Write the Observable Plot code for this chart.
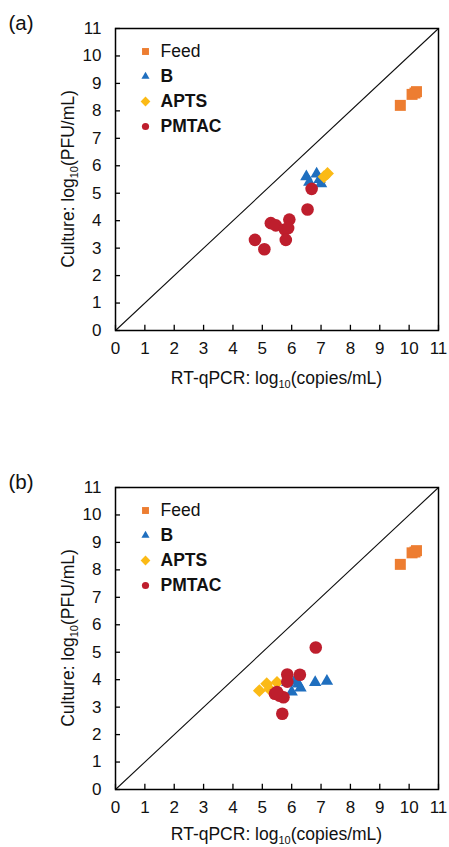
<!DOCTYPE html>
<html><head><meta charset="utf-8">
<script src="https://cdn.jsdelivr.net/npm/d3@7"></script>
<script src="https://cdn.jsdelivr.net/npm/@observablehq/plot@0.6"></script>
<style>body{margin:0;background:#fff} svg{display:block}</style>
</head><body><div id="chart"></div>
<script>
// series definitions
const seriesNames = ["Feed", "B", "APTS", "PMTAC"];
const seriesColors = ["#ED7D31", "#1F6FBF", "#FBBA16", "#BE1E2D"];
const seriesSymbols = ["square", "triangle", "diamond2", "circle"];
const seriesBold = [false, true, true, true];
const axisTicks = [0, 1, 2, 3, 4, 5, 6, 7, 8, 9, 10, 11];
const diagonal = [0, 11];

// panel (a)
const aFeedX = [9.7, 10.1, 10.2, 10.25];
const aFeedY = [8.2, 8.6, 8.65, 8.7];
const aBX = [6.5, 6.6, 6.85, 6.95, 7.0];
const aBY = [5.6, 5.4, 5.7, 5.5, 5.35];
const aAPTSX = [7.1, 7.22];
const aAPTSY = [5.6, 5.72];
const aPMTACX = [6.68, 6.54, 5.92, 5.29, 5.46, 5.77, 5.88, 4.75, 5.80, 5.07];
const aPMTACY = [5.16, 4.41, 4.04, 3.91, 3.83, 3.68, 3.73, 3.30, 3.30, 2.96];

// panel (b)
const bFeedX = [9.7, 10.1, 10.2, 10.25];
const bFeedY = [8.2, 8.62, 8.65, 8.7];
const bBX = [5.85, 6.0, 6.1, 6.22, 6.3, 6.8, 7.2];
const bBY = [3.9, 3.55, 3.95, 3.85, 3.7, 3.9, 3.95];
const bAPTSX = [4.9, 5.15, 5.25, 5.5];
const bAPTSY = [3.6, 3.85, 3.65, 3.9];
const bPMTACX = [6.82, 5.85, 6.28, 5.85, 5.43, 5.58, 5.72, 5.68, 5.5];
const bPMTACY = [5.17, 4.19, 4.18, 3.93, 3.49, 3.42, 3.36, 2.76, 3.55];

const pointR = [6.2, 4.6, 5.8, 6.3];
const legendR = [3.9, 3.0, 4.4, 3.6];

const FONT = "'Liberation Sans', Arial, Helvetica, sans-serif";

function zip(xs, ys) { return xs.map((x, i) => ({x, y: ys[i]})); }

function makePanel(label, series, height, marginBottom, titleY) {
  const marks = [
    Plot.line(diagonal, {x: d => d, y: d => d, stroke: "#111", strokeWidth: 1.1}),
    Plot.ruleX(axisTicks, {x: d => d, y1: 0, y2: 0.19, stroke: "#000", strokeWidth: 1.3}),
    Plot.ruleY(axisTicks, {y: d => d, x1: 0, x2: 0.17, stroke: "#000", strokeWidth: 1.3}),
    Plot.axisX(axisTicks, {tickSize: 0, tickPadding: 11, fontSize: 17, fill: "#111"}),
    Plot.axisY(axisTicks, {tickSize: 0, tickPadding: 14, fontSize: 17, fill: "#111"}),
    Plot.frame({stroke: "#000", strokeWidth: 1.5})
  ];
  series.forEach((pts, i) => {
    marks.push(Plot.dot(pts, {x: "x", y: "y", symbol: seriesSymbols[i], fill: seriesColors[i], r: pointR[i], stroke: "none"}));
  });
  seriesNames.forEach((name, i) => {
    marks.push(Plot.dot([name], {frameAnchor: "top-left", dx: 30, dy: 23 + 25 * i, symbol: seriesSymbols[i], fill: seriesColors[i], r: legendR[i]}));
    marks.push(Plot.text([name], {frameAnchor: "top-left", dx: 45, dy: 23 + 25 * i, text: d => d, textAnchor: "start", lineAnchor: "middle", fontSize: 17.5, fontWeight: seriesBold[i] ? "bold" : "normal", fill: "#111"}));
  });
  marks.push(Plot.text([label], {frameAnchor: "top-left", dx: -107, dy: -5, text: d => d, textAnchor: "start", lineAnchor: "middle", fontSize: 20.5, fill: "#111"}));

  const svg = Plot.plot({
    width: 449,
    height,
    marginLeft: 115,
    marginRight: 11,
    marginTop: 28,
    marginBottom,
    style: {fontFamily: FONT, fontSize: "17px", background: "#fff", color: "#111"},
    x: {domain: [0, 11], label: null},
    y: {domain: [0, 11], label: null},
    marks
  });

  const s = d3.select(svg);
  const xt = s.append("text")
    .attr("x", 276.5).attr("y", titleY)
    .attr("text-anchor", "middle")
    .attr("font-family", FONT).attr("font-size", 17.5).attr("fill", "#111");
  xt.append("tspan").text("RT-qPCR: log");
  xt.append("tspan").attr("font-size", 11).attr("dy", 4).text("10");
  xt.append("tspan").attr("dy", -4).text("(copies/mL)");

  const yt = s.append("text")
    .attr("transform", "translate(74,179) rotate(-90)")
    .attr("text-anchor", "middle")
    .attr("font-family", FONT).attr("font-size", 17.5).attr("fill", "#111");
  yt.append("tspan").text("Culture: log");
  yt.append("tspan").attr("font-size", 11).attr("dy", 4).text("10");
  yt.append("tspan").attr("dy", -4).text("(PFU/mL)");
  return svg;
}

const chart = document.getElementById("chart");
chart.appendChild(makePanel("(a)", [zip(aFeedX, aFeedY), zip(aBX, aBY), zip(aAPTSX, aAPTSY), zip(aPMTACX, aPMTACY)], 459, 129, 384));
chart.appendChild(makePanel("(b)", [zip(bFeedX, bFeedY), zip(bBX, bBY), zip(bAPTSX, bAPTSY), zip(bPMTACX, bPMTACY)], 388, 58, 381));
</script>
</body></html>
